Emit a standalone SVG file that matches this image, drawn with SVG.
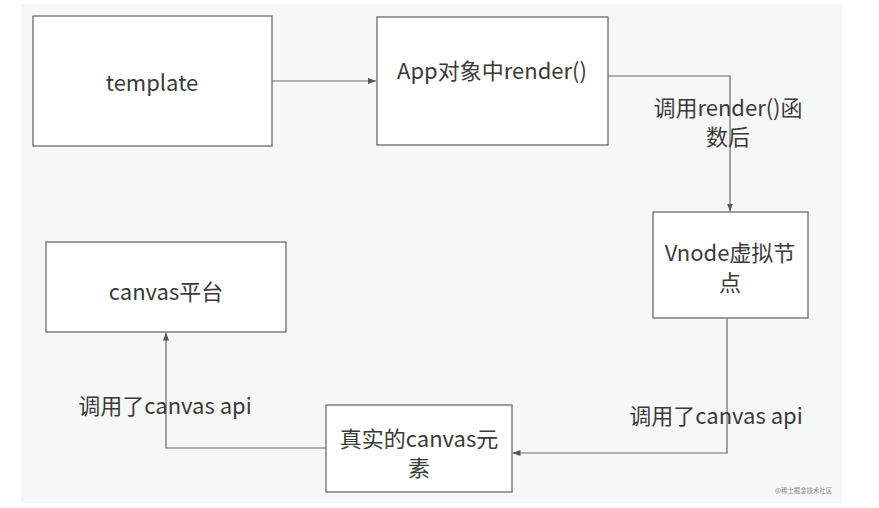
<svg xmlns="http://www.w3.org/2000/svg" width="879" height="508" viewBox="0 0 879 508">
  <style>
    .box { fill: #ffffff; stroke: #6b6b6b; stroke-width: 1.3; }
    .t { font-family: "Noto Sans CJK SC", "Liberation Sans", sans-serif; font-size: 22px; fill: #3a3a3a; text-anchor: middle; }
    .edge { fill: none; stroke: #6b6b6b; stroke-width: 1.2; }
    .wm { font-family: "Noto Sans CJK SC", sans-serif; font-size: 7px; fill: #8a8a8a; }
  </style>
  <defs>
    <marker id="arr" markerWidth="8" markerHeight="6" refX="8" refY="3" orient="auto" markerUnits="userSpaceOnUse">
      <path d="M0,0 L8,3 L0,6 z" fill="#555555"/>
    </marker>
  </defs>
  <rect x="0" y="0" width="879" height="508" fill="#ffffff"/>
  <rect x="21" y="4" width="821" height="499" fill="#f7f7f7"/>

  <g id="connectors">
    <path class="edge" d="M272,81 H376" marker-end="url(#arr)"/>
    <path class="edge" d="M608,76 H730 V211.5" marker-end="url(#arr)"/>
    <path class="edge" d="M727,318 V453 H512.5" marker-end="url(#arr)"/>
    <path class="edge" d="M326,448 H166 V332.5" marker-end="url(#arr)"/>
    <text class="t" x="728" y="116">调用render()函</text>
    <text class="t" x="728" y="145">数后</text>
    <text class="t" x="716" y="424">调用了canvas api</text>
    <text class="t" x="165" y="414">调用了canvas api</text>
  </g>

  <g id="template">
    <rect class="box" x="33" y="16" width="239" height="130"/>
    <text class="t" x="152" y="91">template</text>
  </g>
  <g id="app">
    <rect class="box" x="377" y="17" width="231" height="128"/>
    <text class="t" x="492" y="79">App对象中render()</text>
  </g>
  <g id="vnode">
    <rect class="box" x="653" y="212" width="155" height="106"/>
    <text class="t" x="730" y="261">Vnode虚拟节</text>
    <text class="t" x="730" y="291">点</text>
  </g>
  <g id="canvas-element">
    <rect class="box" x="326" y="405" width="186" height="87"/>
    <text class="t" x="419" y="447">真实的canvas元</text>
    <text class="t" x="419" y="476">素</text>
  </g>
  <g id="canvas-platform">
    <rect class="box" x="46" y="242" width="240" height="90"/>
    <text class="t" x="166" y="300">canvas平台</text>
  </g>
  <text class="wm" x="775" y="493" textLength="57" lengthAdjust="spacingAndGlyphs">@稀土掘金技术社区</text>
</svg>
